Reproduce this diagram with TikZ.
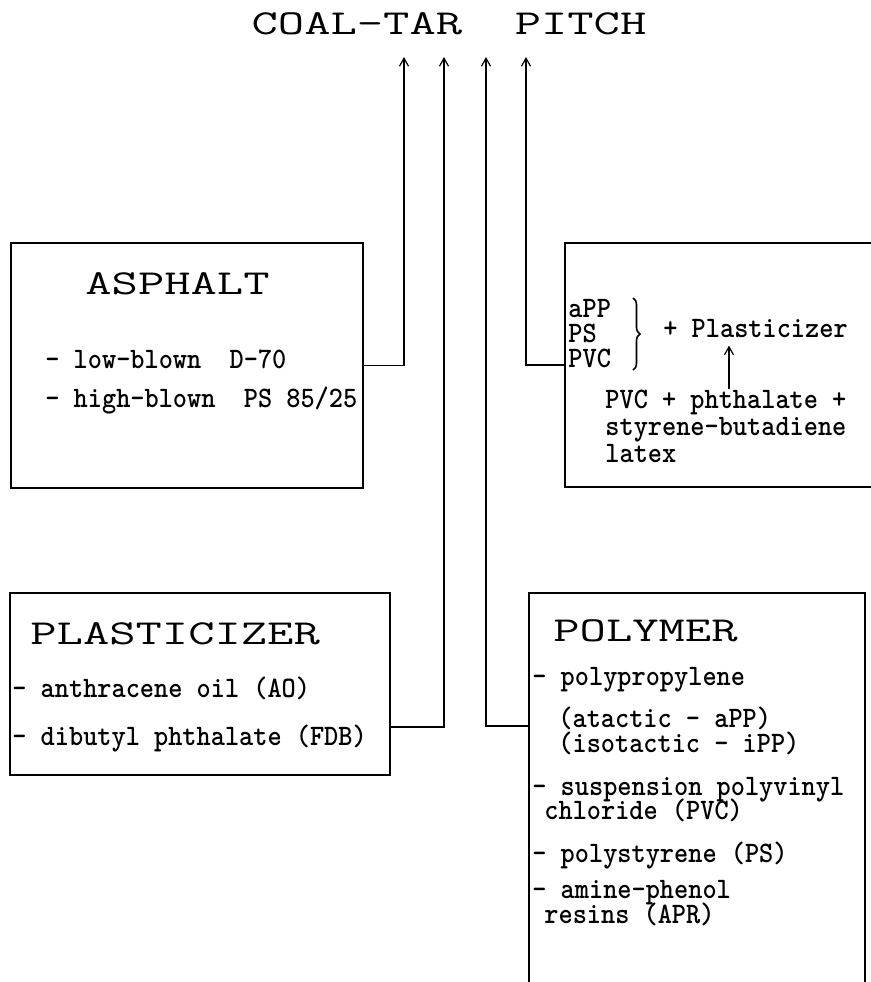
\documentclass[tikz,border=0pt]{standalone}
\usepackage{graphicx}
\usepackage{tikz}
\usetikzlibrary{arrows.meta,positioning,fit,decorations.pathreplacing}

\newcommand{\bodyline}[1]{\scalebox{1}[1.1]{#1}}
\newcommand{\headline}[1]{\scalebox{1.46}[1]{#1}}

\begin{document}
\begin{tikzpicture}[x=0.5pt, y=-0.5pt,
      box/.style={draw, line width=1pt, inner sep=0pt},
      txt/.style={anchor=base west, inner sep=0pt, font=\ttfamily\bfseries\fontsize{13.5}{16}\selectfont},
      head/.style={anchor=base west, inner sep=0pt, font=\ttfamily\fontsize{17.5}{20}\selectfont},
      link/.style={line width=0.6pt},
      >={Straight Barb[length=4pt,width=4.5pt]}]
    \useasboundingbox (0,0) rectangle (871,982);
    \clip (0,0) rectangle (871,982);

    \node[head, anchor=base] (pitch) at (449,34) {\headline{COAL-TAR~ PITCH}};
    \foreach \i/\x in {1/404,2/444,3/486,4/526}
      \coordinate (c\i) at (\x,57);

    \node[box, fit={(11,243) (363,488)}] (asph) {};
    \node[box, fit={(565,243) (890,487)}] (blend) {};
    \node[box, fit={(10,593) (390,775)}] (plast) {};
    \node[box, fit={(529,593) (865,1010)}] (poly) {};

    \node[head] (asphT) at (85,294) {\headline{ASPHALT}};
    \node[txt] (a1) at (45,368) {\bodyline{- low-blown~ D-70}};
    \node[txt] (a2) at (45,407) {\bodyline{- high-blown~ PS 85/25}};

    \node[txt] (b1) at (568,317) {\bodyline{aPP}};
    \node[txt] (b2) at (568,342) {\bodyline{PS}};
    \node[txt] (b3) at (568,367) {\bodyline{PVC}};
    \draw[link, line width=0.8pt, decorate, decoration={brace, amplitude=3.5pt}] (633,298) -- (633,370);
    \node[txt] (plz) at (663,337) {\bodyline{+ Plasticizer}};
    \node[txt] (mix1) at (605,408) {\bodyline{PVC + phthalate +}};
    \node[txt] (mix2) at (605,435) {\bodyline{styrene-butadiene}};
    \node[txt] (mix3) at (605,462) {\bodyline{latex}};
    \coordinate (up) at (729,0);
    \draw[link,->,shorten >=4pt] (mix1.north -| up) -- (plz.south -| up);

    \node[head] (plastT) at (30,644) {\headline{PLASTICIZER}};
    \node[txt] (p1) at (12,697) {\bodyline{- anthracene oil (AO)}};
    \node[txt] (p2) at (12,745) {\bodyline{- dibutyl phthalate (FDB)}};

    \node[head] (polyT) at (553,641) {\headline{POLYMER}};
    \node[txt] (m1) at (532,685) {\bodyline{- polypropylene}};
    \node[txt] (m2) at (558,727) {\bodyline{(atactic - aPP)}};
    \node[txt] (m3) at (558,752) {\bodyline{(isotactic - iPP)}};
    \node[txt] (m4) at (532,795) {\bodyline{- suspension polyvinyl}};
    \node[txt] (m5) at (544,819) {\bodyline{chloride (PVC)}};
    \node[txt] (m6) at (532,862) {\bodyline{- polystyrene (PS)}};
    \node[txt] (m7) at (532,898) {\bodyline{- amine-phenol}};
    \node[txt] (m8) at (544,923) {\bodyline{resins (APR)}};

    \draw[link,->] (asph.east) -| (c1);
    \draw[link,->] ([yshift=-21.5pt]plast.east) -| (c2);
    \draw[link,->] ([yshift=-67pt]poly.north west) -| (c3);
    \draw[link,->] (blend.west) -| (c4);
  \end{tikzpicture}
\end{document}
